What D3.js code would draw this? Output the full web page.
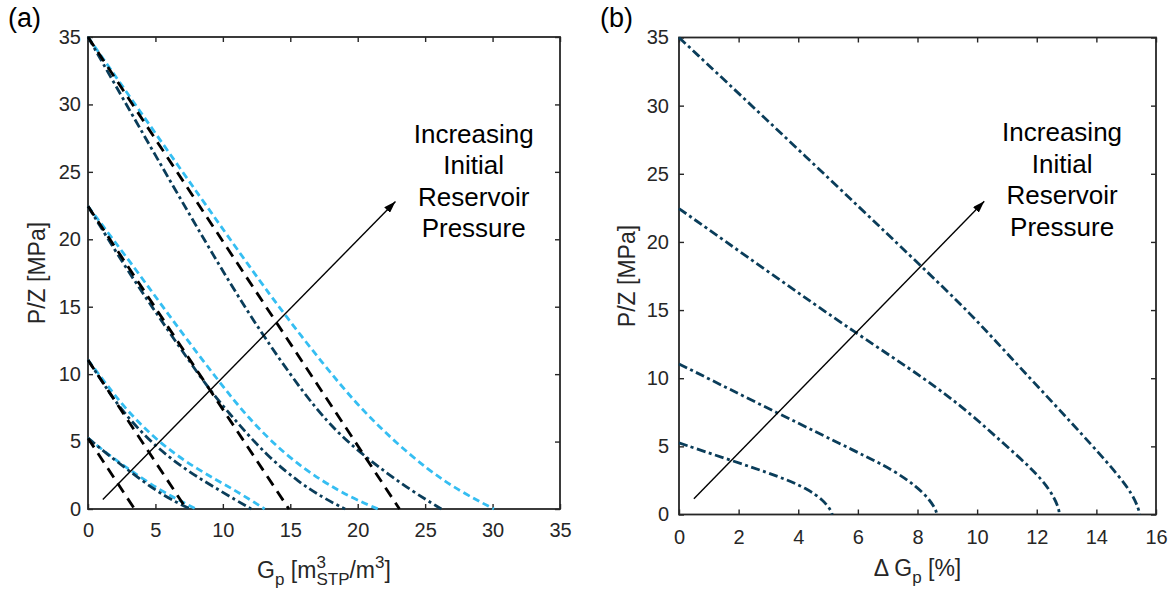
<!DOCTYPE html>
<html>
<head>
<meta charset="utf-8">
<script src="https://cdn.jsdelivr.net/npm/d3@7"></script>
<style>
  body { margin: 0; background: #fff; }
  svg { display: block; font-family: "Liberation Sans", Arial, Helvetica, sans-serif; }
</style>
</head>
<body>
<svg id="fig" width="1173" height="593"></svg>
<script>
// ---------- data ----------
// Initial reservoir P/Z levels [MPa]
const initialPZ = [5.25, 11.05, 22.45, 35];

// Panel (a): P/Z [MPa] vs cumulative production Gp [m3(STP)/m3], points as [Gp, P/Z]
// conventional straight-line material balance (black dashed)
const gpLinear = [
  [[0, 5.25], [3.45, 0]],
  [[0, 11.05], [7.3, 0]],
  [[0, 22.45], [14.9, 0]],
  [[0, 35], [23.1, 0]]
];
// light blue dashed curves
const gpLight = [
  [[0, 5.25], [1.5, 4.05], [3.1, 2.89], [5.3, 1.41], [7.2, 0.42], [8.0, 0]],
  [[0, 11.05], [1.4, 9.2], [2.84, 7.34], [5.3, 4.87], [8.16, 2.89], [10.9, 1.41], [13.1, 0]],
  [[0, 22.45], [3.6, 17.7], [6.7, 13.4], [9.6, 9.6], [11.9, 6.7], [14.7, 3.95], [17.3, 2.1], [19.5, 0.85], [21.5, 0]],
  [[0, 35], [7.0, 25.0], [12.3, 17.5], [14.7, 14.26], [17.4, 10.8], [19.9, 7.8], [22.4, 5.3], [25.2, 2.9], [27.6, 1.3], [30.1, 0]]
];
// dark dash-dot curves
const gpDark = [
  [[0, 5.25], [1.45, 4.05], [2.97, 2.89], [4.94, 1.41], [6.67, 0.42], [7.6, 0]],
  [[0, 11.05], [1.2, 9.2], [2.47, 7.34], [4.7, 4.87], [7.3, 2.85], [9.8, 1.35], [12.1, 0]],
  [[0, 22.45], [2.9, 17.7], [5.9, 13.3], [9.0, 8.8], [10.9, 6.6], [13.3, 3.9], [15.7, 1.95], [17.4, 0.85], [19.06, 0]],
  [[0, 35], [5.0, 26.2], [10.1, 17.4], [13.0, 12.8], [17.1, 7.0], [19.9, 4.4], [21.9, 2.85], [24.0, 1.35], [26.2, 0]]
];

// Panel (b): P/Z [MPa] vs production difference dGp [%], points as [dGp, P/Z]
const dGp = [
  [[0, 5.25], [1.71, 4.0], [3.39, 2.77], [4.28, 1.92], [4.84, 1.06], [5.09, 0.33], [5.14, 0]],
  [[0, 11.05], [3.36, 7.38], [6.07, 4.48], [7.19, 3.26], [7.98, 2.04], [8.42, 1.06], [8.62, 0.33], [8.65, 0]],
  [[0, 22.45], [3.0, 17.8], [6.0, 13.2], [8.31, 9.9], [9.77, 7.42], [10.88, 5.22], [11.89, 3.26], [12.45, 1.8], [12.73, 0.57], [12.76, 0]],
  [[0, 35], [4.0, 26.8], [8.11, 18.26], [9.77, 14.76], [11.1, 11.58], [12.56, 8.16], [13.9, 4.97], [14.75, 2.85], [15.22, 1.45], [15.42, 0.4], [15.45, 0]]
];

// Arrow annotations (data coordinates: tail, head)
const arrowA = [[1.1, 0.7], [22.8, 22.8]];
const arrowB = [[0.5, 1.16], [10.24, 22.98]];
const noteLines = ["Increasing", "Initial", "Reservoir", "Pressure"];
const noteA = [28.6, 27.15];
const noteB = [12.85, 27.4];

// Tick values
const ticksGp = [0, 5, 10, 15, 20, 25, 30, 35];
const ticksDGp = [0, 2, 4, 6, 8, 10, 12, 14, 16];
const ticksPZ = [0, 5, 10, 15, 20, 25, 30, 35];

// ---------- styles ----------
const AXIS = "#262626";
const DARK = "#0a3d5a";
const LIGHT = "#35bef2";
const TICK_FS = 20, LABEL_FS = 23, SCRIPT_FS = 17, NOTE_FS = 26, PANEL_FS = 27;

const svg = d3.select("#fig");

// arrowhead marker
svg.append("defs").append("marker")
  .attr("id", "head")
  .attr("viewBox", "0 0 12 8")
  .attr("refX", 12).attr("refY", 4)
  .attr("markerWidth", 12).attr("markerHeight", 8)
  .attr("markerUnits", "userSpaceOnUse")
  .attr("orient", "auto")
  .append("path").attr("d", "M0,0 L12,4 L0,8 Z").attr("fill", "#000");

// build a label from text runs; stacked runs place a superscript over a subscript
function richLabel(g, parts) {
  let x = 0;
  parts.forEach(p => {
    if (p.stack) {
      const a = g.append("text").attr("x", x).attr("y", -10).style("font-size", SCRIPT_FS + "px").text(p.stack[0]);
      const b = g.append("text").attr("x", x).attr("y", 7).style("font-size", SCRIPT_FS + "px").text(p.stack[1]);
      x += Math.max(a.node().getComputedTextLength(), b.node().getComputedTextLength());
    } else {
      const t = g.append("text").attr("x", x).attr("y", p.dy || 0)
        .style("font-size", (p.size || LABEL_FS) + "px")
        .style("white-space", "pre")
        .text(p.text);
      x += t.node().getComputedTextLength();
    }
  });
  g.selectAll("text").attr("fill", AXIS);
  return x;
}

function panel(cfg) {
  const x = d3.scaleLinear().domain(cfg.xDomain).range([cfg.left, cfg.left + cfg.size]);
  const y = d3.scaleLinear().domain([0, 35]).range([cfg.top + cfg.size, cfg.top]);
  const g = svg.append("g");

  // axes: ticks point inward on all four sides
  const bottom = g.append("g").attr("transform", `translate(0,${cfg.top + cfg.size})`)
    .call(d3.axisBottom(x).tickValues(cfg.xTicks).tickSize(-5).tickPadding(cfg.xPad).tickFormat(d3.format("d")));
  const left = g.append("g").attr("transform", `translate(${cfg.left},0)`)
    .call(d3.axisLeft(y).tickValues(ticksPZ).tickSize(-5).tickPadding(cfg.yPad).tickFormat(d3.format("d")));
  const top = g.append("g").attr("transform", `translate(0,${cfg.top})`)
    .call(d3.axisTop(x).tickValues(cfg.xTicks).tickSize(-5).tickFormat(""));
  const right = g.append("g").attr("transform", `translate(${cfg.left + cfg.size},0)`)
    .call(d3.axisRight(y).tickValues(ticksPZ).tickSize(-5).tickFormat(""));
  [bottom, left, top, right].forEach(a => {
    a.select(".domain").remove();
    a.selectAll("line").attr("stroke", AXIS).attr("stroke-width", 1.4);
    a.selectAll("text").attr("fill", AXIS).style("font-size", TICK_FS + "px")
      .style("font-family", '"Liberation Sans", Arial, sans-serif');
  });
  g.append("rect")
    .attr("x", cfg.left).attr("y", cfg.top)
    .attr("width", cfg.size).attr("height", cfg.size)
    .attr("fill", "none").attr("stroke", AXIS).attr("stroke-width", 1.8);

  const line = d3.line().x(d => x(d[0])).y(d => y(d[1]));

  cfg.series.forEach(s => {
    g.append("g").selectAll("path").data(s.data).join("path")
      .attr("d", line.curve(s.curve))
      .attr("fill", "none")
      .attr("stroke", s.color)
      .attr("stroke-width", s.width)
      .attr("stroke-dasharray", s.dash);
  });

  // arrow
  g.append("line")
    .attr("x1", x(cfg.arrow[0][0])).attr("y1", y(cfg.arrow[0][1]))
    .attr("x2", x(cfg.arrow[1][0])).attr("y2", y(cfg.arrow[1][1]))
    .attr("stroke", "#000").attr("stroke-width", 1.4)
    .attr("marker-end", "url(#head)");

  // note text
  g.append("text")
    .attr("x", x(cfg.note[0])).attr("y", y(cfg.note[1]))
    .attr("text-anchor", "middle").style("font-size", NOTE_FS + "px").attr("fill", "#000")
    .selectAll("tspan").data(noteLines).join("tspan")
    .attr("x", x(cfg.note[0])).attr("dy", (d, i) => i === 0 ? 0 : 31.5).text(d => d);

  // y label
  g.append("text")
    .attr("transform", `translate(${cfg.yLabelX},${cfg.top + cfg.size / 2}) rotate(-90)`)
    .attr("text-anchor", "middle").style("font-size", LABEL_FS + "px").attr("fill", AXIS)
    .text("P/Z [MPa]");

  // x label
  const xl = g.append("g");
  const w = richLabel(xl, cfg.xLabel);
  xl.attr("transform", `translate(${cfg.left + cfg.size / 2 - w / 2},${cfg.xLabelY})`);

  // panel letter
  svg.append("text").attr("x", cfg.letterX).attr("y", 27)
    .style("font-size", PANEL_FS + "px").attr("fill", "#000").text(cfg.letter);
}

panel({
  left: 88, top: 37, size: 472,
  xDomain: [0, 35], xTicks: ticksGp, xPad: 14, yPad: 7,
  series: [
    { data: gpLight, color: LIGHT, width: 2.8, dash: "7,4", curve: d3.curveBasis },
    { data: gpDark, color: DARK, width: 2.8, dash: "9,3.5,3,3.5", curve: d3.curveBasis },
    { data: gpLinear, color: "#000", width: 2.8, dash: "11,7", curve: d3.curveLinear }
  ],
  arrow: arrowA, note: noteA,
  yLabelX: 45, xLabelY: 578,
  xLabel: [
    { text: "G" }, { text: "p", size: SCRIPT_FS, dy: 7 }, { text: " [m" },
    { stack: ["3", "STP"] }, { text: "/m" }, { text: "3", size: SCRIPT_FS, dy: -10 }, { text: "]" }
  ],
  letter: "(a)", letterX: 8
});

panel({
  left: 679, top: 37.5, size: 477,
  xDomain: [0, 16], xTicks: ticksDGp, xPad: 15, yPad: 10,
  series: [
    { data: dGp, color: DARK, width: 2.8, dash: "9,3.5,3,3.5", curve: d3.curveBasis }
  ],
  arrow: arrowB, note: noteB,
  yLabelX: 635, xLabelY: 576,
  xLabel: [
    { text: "\u0394 G" }, { text: "p", size: SCRIPT_FS, dy: 7 }, { text: " [%]" }
  ],
  letter: "(b)", letterX: 600
});
</script>
</body>
</html>
